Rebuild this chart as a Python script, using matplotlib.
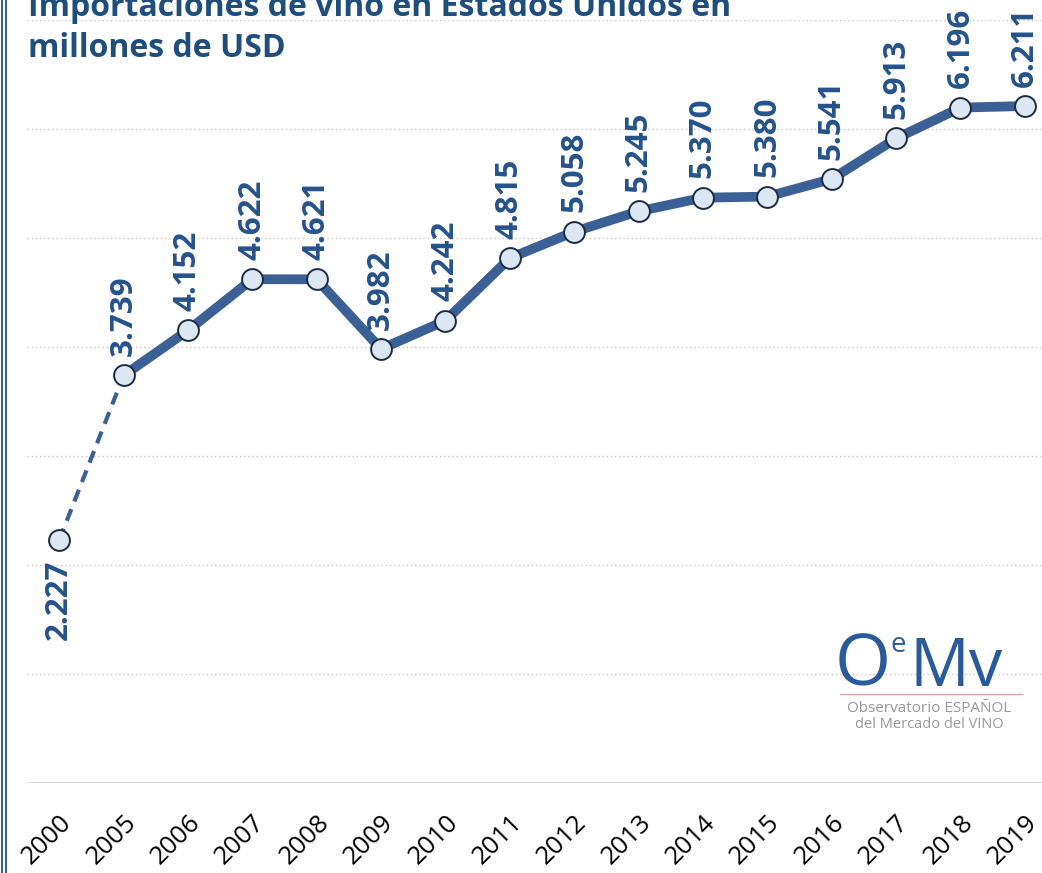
import matplotlib.pyplot as plt
from matplotlib.lines import Line2D
import matplotlib

matplotlib.rcParams['font.family'] = ['Open Sans', 'DejaVu Sans']

# Data: wine imports in the US, millions of USD
years = ['2000', '2005', '2006', '2007', '2008', '2009', '2010', '2011',
         '2012', '2013', '2014', '2015', '2016', '2017', '2018', '2019']
values = [2.227, 3.739, 4.152, 4.622, 4.621, 3.982, 4.242, 4.815,
          5.058, 5.245, 5.370, 5.380, 5.541, 5.913, 6.196, 6.211]
labels = ['2.227', '3.739', '4.152', '4.622', '4.621', '3.982', '4.242', '4.815',
          '5.058', '5.245', '5.370', '5.380', '5.541', '5.913', '6.196', '6.211']

line_color = '#3A6096'
label_color = '#24528A'
title_color = '#1F4E7D'

fig = plt.figure(figsize=(10.42, 8.73), dpi=100)
ax = fig.add_axes([27 / 1042, 90 / 873, 1030 / 1042, 763 / 873])

x = list(range(len(years)))

# dashed gap segment 2000 -> 2005, solid afterwards
ax.plot(x[:2], values[:2], color=line_color, linewidth=3, linestyle=(0, (3, 2)), zorder=3)
ax.plot(x[1:], values[1:], color=line_color, linewidth=7, solid_joinstyle='round', zorder=3)
ax.plot(x, values, linestyle='none', marker='o', markersize=15,
        markerfacecolor='#DDE7F4', markeredgecolor='#1C2B40', markeredgewidth=1.4, zorder=4)

for i, (xi, v, lab) in enumerate(zip(x, values, labels)):
    if i == 0:
        ax.annotate(lab, (xi, v), xytext=(0, -14), textcoords='offset points',
                    rotation=90, ha='center', va='top', fontsize=22.5,
                    fontweight='bold', color=label_color)
    else:
        ax.annotate(lab, (xi, v), xytext=(0, 14), textcoords='offset points',
                    rotation=90, ha='center', va='bottom', fontsize=22.5,
                    fontweight='bold', color=label_color)

ax.set_xlim(-0.5, 15.5)
ax.set_ylim(0, 7)
ax.set_yticks(range(1, 8))
ax.yaxis.grid(True, color='#C8C8C8', linestyle=(0, (1, 2)), linewidth=1)
ax.axhline(0, color='#D9D9D9', linewidth=2, zorder=2)
ax.set_axisbelow(True)
ax.tick_params(axis='y', left=False, labelleft=False)
ax.tick_params(axis='x', bottom=False, pad=16)
ax.set_xticks(x)
ax.set_xticklabels(years, rotation=45, ha='right', rotation_mode='anchor', fontsize=18.5)
for s in ax.spines.values():
    s.set_visible(False)

# title (partly cut at the top as in the original)
fig.text(28 / 1042, 1 - 57 / 873,
         'Importaciones de vino en Estados Unidos en\nmillones de USD',
         fontsize=23, fontweight='bold', color=title_color,
         ha='left', va='baseline', linespacing=1.3)

# double border on the left
fig.add_artist(Line2D([2 / 1042, 2 / 1042], [0, 1], color='#3A6096', linewidth=1.5))
fig.add_artist(Line2D([6 / 1042, 6 / 1042], [0, 1], color='#3A6096', linewidth=1.5))

# OeMv logo
logo_blue = '#2B5A9A'
fig.text(835 / 1042, 1 - 686 / 873, 'O', fontsize=52, color=logo_blue, ha='left', va='baseline')
fig.text(891 / 1042, 1 - 652 / 873, 'e', fontsize=20, color=logo_blue, ha='left', va='baseline')
fig.text(909 / 1042, 1 - 686 / 873, 'Mv', fontsize=48, color=logo_blue, ha='left', va='baseline')
fig.add_artist(Line2D([840 / 1042, 1022 / 1042], [1 - 694 / 873, 1 - 694 / 873],
                      color='#D9A0A0', linewidth=0.8))
fig.text(929 / 1042, 1 - 712 / 873, 'Observatorio ESPAÑOL', fontsize=11, color='#999999',
         ha='center', va='baseline')
fig.text(929 / 1042, 1 - 728 / 873, 'del Mercado del VINO', fontsize=10.5, color='#999999',
         ha='center', va='baseline')

fig.savefig('out.png', dpi=100)
